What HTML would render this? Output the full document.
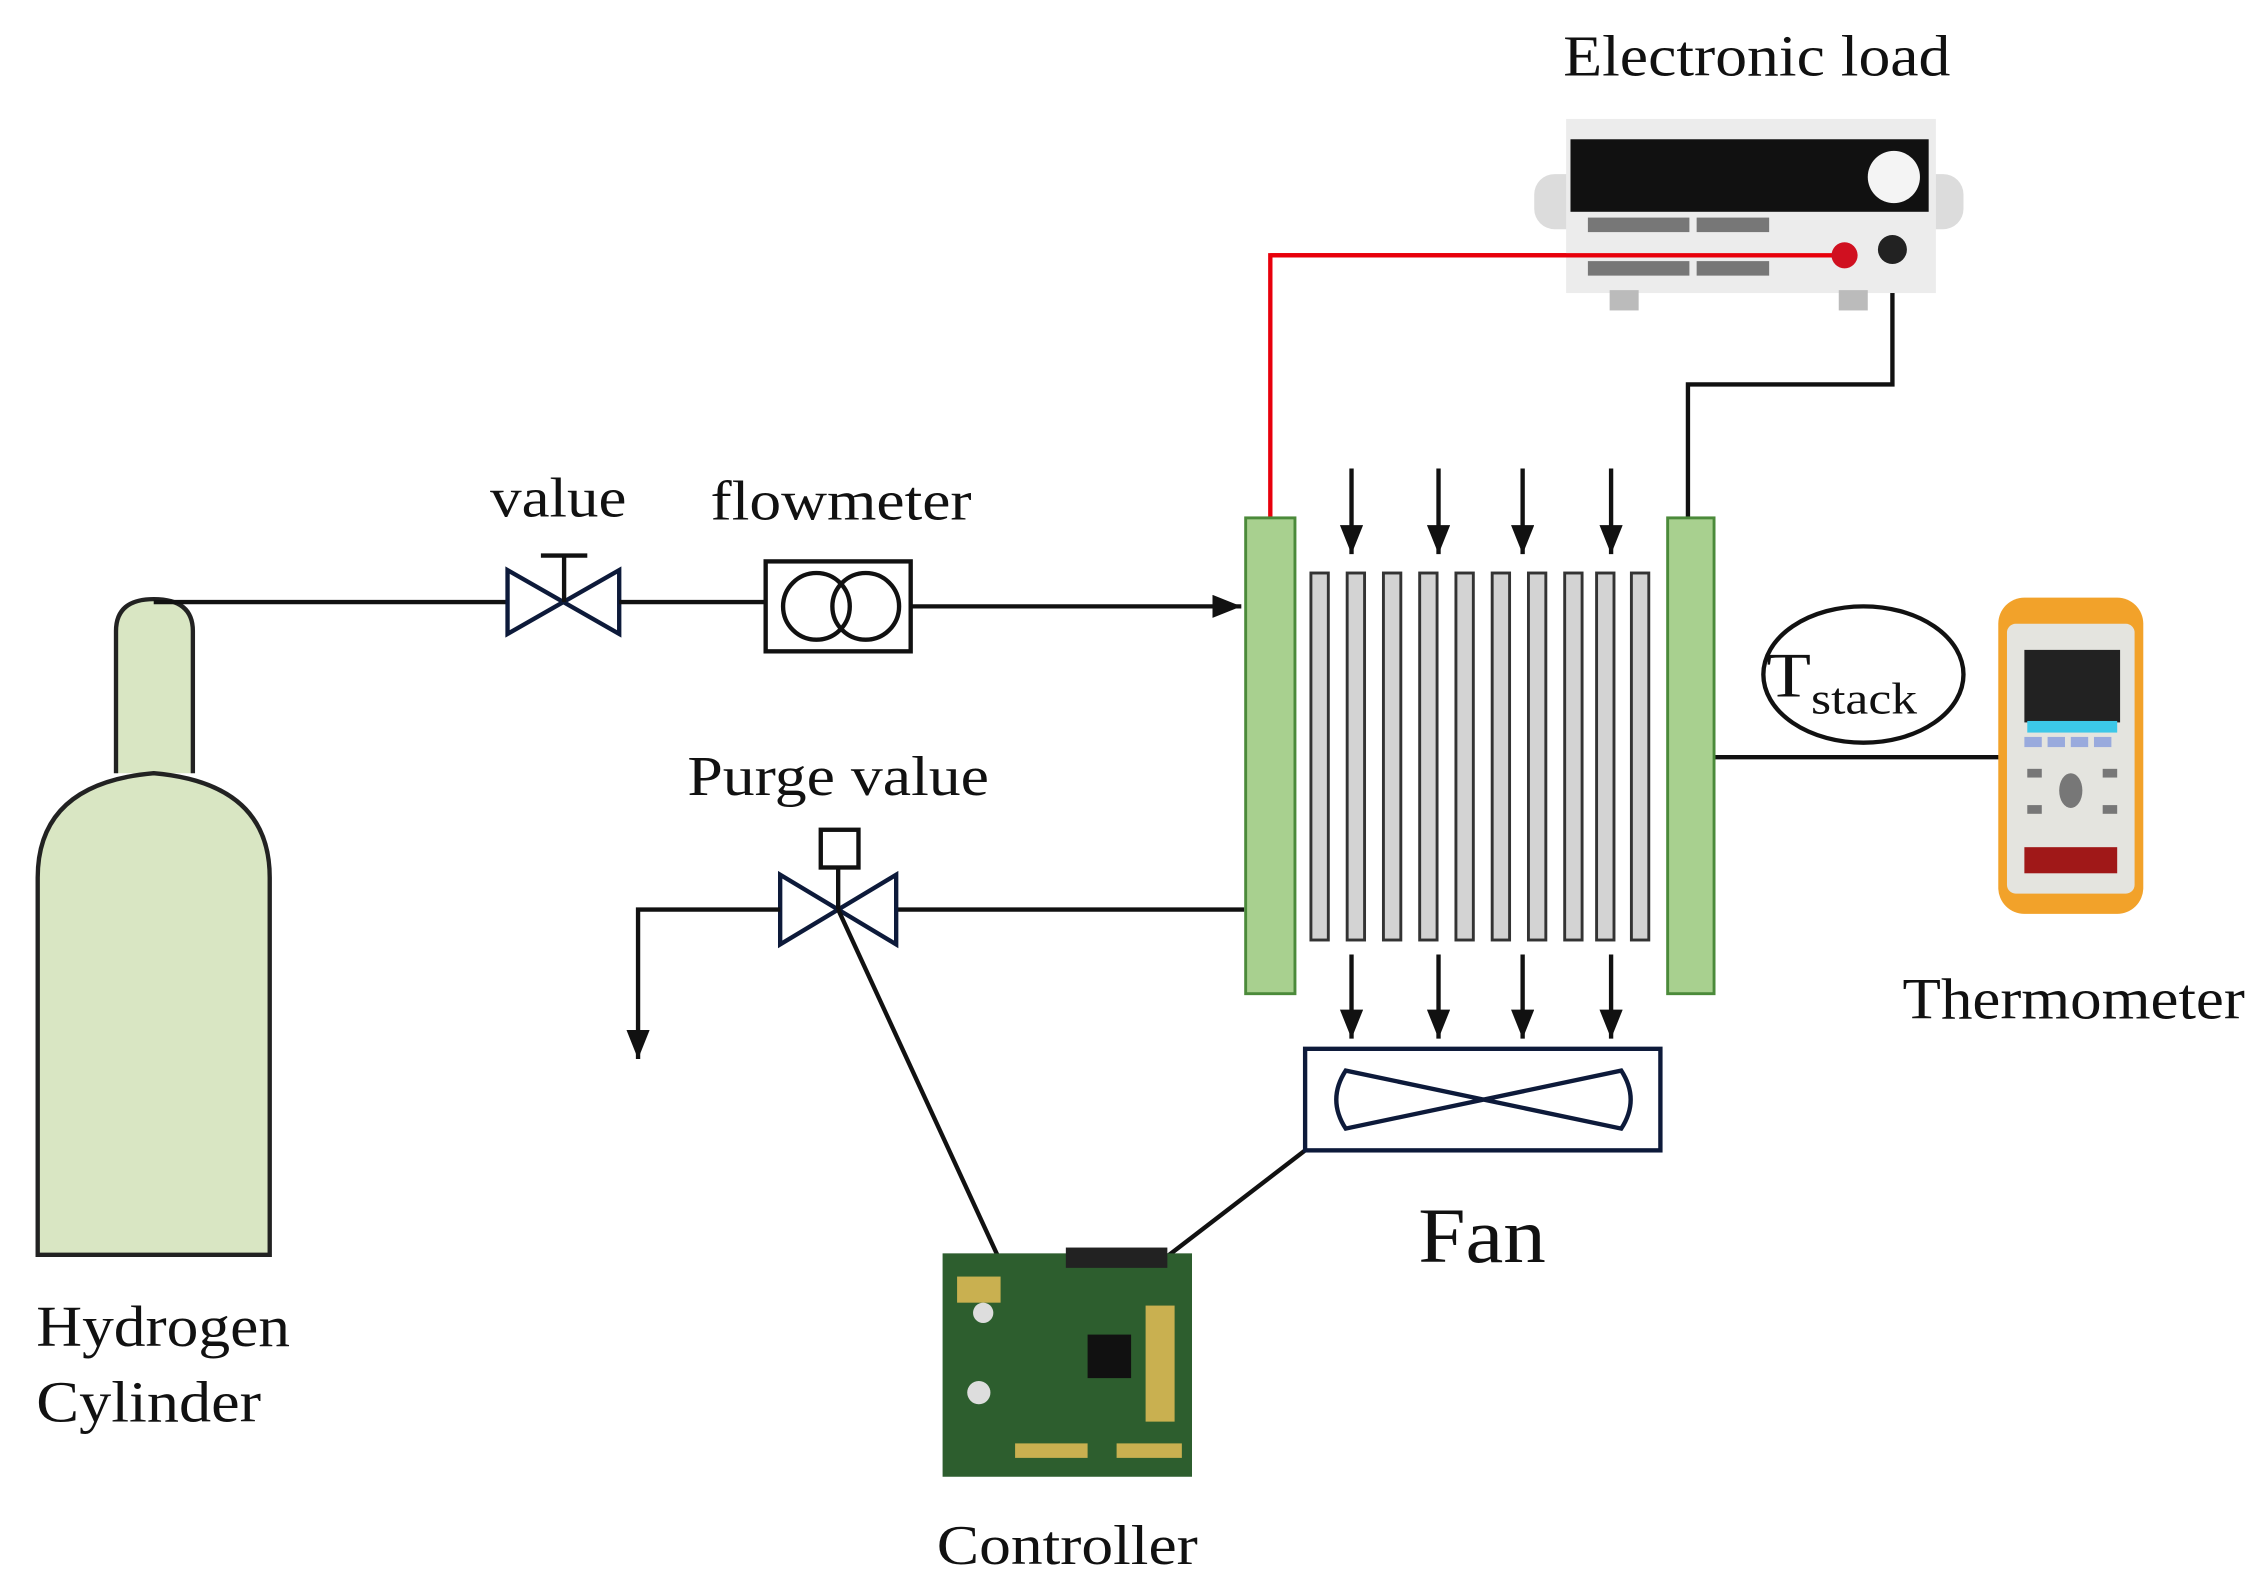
<!DOCTYPE html>
<html><head><meta charset="utf-8"><style>html,body{margin:0;padding:0;background:#fff}svg{display:block}text{font-family:"Liberation Serif",serif;fill:#111}</style></head>
<body>
<svg width="2268" height="1587" viewBox="0 0 1564 1094" preserveAspectRatio="none" xmlns="http://www.w3.org/2000/svg">
<defs>
<marker id="ab" markerWidth="22" markerHeight="22" refX="20" refY="8" orient="auto" markerUnits="userSpaceOnUse"><path d="M0,0 L20,8 L0,16 z" fill="#111"/></marker></defs>
<g stroke="#111" stroke-width="3" fill="none">
<path d="M80,533 L80,435 Q80,413 106,413 Q133,413 133,435 L133,533" fill="#d9e6c3" stroke="#222"/>
<path d="M26,865 L26,605 Q26,540 106,533 Q186,540 186,605 L186,865 Z" fill="#d9e6c3" stroke="#222"/>
<line x1="106" y1="415" x2="350" y2="415"/>
<path d="M350,393 L427,437 L427,393 L350,437 Z" fill="#fff" stroke="#0d1a3a"/>
<line x1="389" y1="415" x2="389" y2="383"/><line x1="373" y1="383" x2="405" y2="383"/>
<line x1="427" y1="415" x2="528" y2="415"/>
<rect x="528" y="387" width="100" height="62" fill="#fff"/>
<circle cx="563" cy="418" r="23"/><circle cx="597" cy="418" r="23"/>
<line x1="628" y1="418" x2="856" y2="418" marker-end="url(#ab)"/>
<line x1="858" y1="627" x2="618" y2="627"/>
<path d="M538,603 L618,651 L618,603 L538,651 Z" fill="#fff" stroke="#0d1a3a"/>
<line x1="578" y1="627" x2="578" y2="598"/><rect x="566" y="572" width="26" height="26" fill="#fff"/>
<polyline points="538,627 440,627 440,730" marker-end="url(#ab)"/>
<line x1="578" y1="627" x2="690" y2="870"/>
<line x1="900" y1="793" x2="805" y2="866"/>
<polyline points="876,357 876,176 1272,176" stroke="#e8000b"/>
<polyline points="1164,357 1164,265 1305,265 1305,178"/>
<line x1="1182" y1="522" x2="1380" y2="522"/>
<g><line x1="932" y1="323" x2="932" y2="382" marker-end="url(#ab)"/><line x1="992" y1="323" x2="992" y2="382" marker-end="url(#ab)"/><line x1="1050" y1="323" x2="1050" y2="382" marker-end="url(#ab)"/><line x1="1111" y1="323" x2="1111" y2="382" marker-end="url(#ab)"/>
<line x1="932" y1="658" x2="932" y2="716" marker-end="url(#ab)"/><line x1="992" y1="658" x2="992" y2="716" marker-end="url(#ab)"/><line x1="1050" y1="658" x2="1050" y2="716" marker-end="url(#ab)"/><line x1="1111" y1="658" x2="1111" y2="716" marker-end="url(#ab)"/></g>
<rect x="900" y="723" width="245" height="70" fill="#fff" stroke="#0d1a3a"/>
<path d="M928,738 Q915,758 928,778 L1118,738 Q1131,758 1118,778 Z" stroke="#0d1a3a"/>
</g>
<rect x="859" y="357" width="34" height="328" fill="#a8d08f" stroke="#4b8a3a" stroke-width="2"/>
<rect x="1150" y="357" width="32" height="328" fill="#a8d08f" stroke="#4b8a3a" stroke-width="2"/>
<g fill="#d3d3d3" stroke="#333" stroke-width="2">
<rect x="904" y="395" width="12" height="253"/><rect x="929" y="395" width="12" height="253"/><rect x="954" y="395" width="12" height="253"/><rect x="979" y="395" width="12" height="253"/><rect x="1004" y="395" width="12" height="253"/><rect x="1029" y="395" width="12" height="253"/><rect x="1054" y="395" width="12" height="253"/><rect x="1079" y="395" width="12" height="253"/><rect x="1101" y="395" width="12" height="253"/><rect x="1125" y="395" width="12" height="253"/></g>
<rect x="1058" y="120" width="296" height="38" rx="14" fill="#dcdcdc"/>
<rect x="1080" y="82" width="255" height="120" fill="#ececec"/>
<rect x="1083" y="96" width="247" height="50" fill="#111"/>
<circle cx="1306" cy="122" r="18" fill="#f4f4f4"/>
<g fill="#777"><rect x="1095" y="150" width="70" height="10"/><rect x="1170" y="150" width="50" height="10"/><rect x="1095" y="180" width="70" height="10"/><rect x="1170" y="180" width="50" height="10"/></g>
<rect x="1110" y="200" width="20" height="14" fill="#bbb"/><rect x="1268" y="200" width="20" height="14" fill="#bbb"/>
<line x1="876" y1="176" x2="1272" y2="176" stroke="#e8000b" stroke-width="3"/>
<circle cx="1272" cy="176" r="9" fill="#d01020"/><circle cx="1305" cy="172" r="10" fill="#222"/>
<rect x="1378" y="412" width="100" height="218" rx="18" fill="#f2a22a"/>
<rect x="1384" y="430" width="88" height="186" rx="6" fill="#e4e4df"/>
<rect x="1396" y="448" width="66" height="50" fill="#222"/>
<rect x="1398" y="497" width="62" height="8" fill="#3cc8e8"/>
<g fill="#9ad"><rect x="1396" y="508" width="12" height="7"/><rect x="1412" y="508" width="12" height="7"/><rect x="1428" y="508" width="12" height="7"/><rect x="1444" y="508" width="12" height="7"/></g>
<g fill="#777"><ellipse cx="1428" cy="545" rx="8" ry="12"/><rect x="1398" y="530" width="10" height="6"/><rect x="1450" y="530" width="10" height="6"/><rect x="1398" y="555" width="10" height="6"/><rect x="1450" y="555" width="10" height="6"/></g>
<rect x="1396" y="584" width="64" height="18" fill="#a01818"/>
<rect x="650" y="864" width="172" height="154" fill="#2d5e2e"/>
<g fill="#c9b050"><rect x="660" y="880" width="30" height="18"/><rect x="770" y="995" width="45" height="10"/><rect x="700" y="995" width="50" height="10"/><rect x="790" y="900" width="20" height="80"/></g>
<rect x="735" y="860" width="70" height="14" fill="#222"/><rect x="750" y="920" width="30" height="30" fill="#111"/>
<circle cx="678" cy="905" r="7" fill="#ddd"/><circle cx="675" cy="960" r="8" fill="#ddd"/>
<ellipse cx="1285" cy="465" rx="69" ry="47" fill="none" stroke="#111" stroke-width="3"/>
<text x="1218" y="480" font-size="44" textLength="104" lengthAdjust="spacingAndGlyphs">T<tspan font-size="31" dy="12">stack</tspan></text>
<g lengthAdjust="spacingAndGlyphs">
<text x="1078" y="52" font-size="40" textLength="267" lengthAdjust="spacingAndGlyphs">Electronic load</text>
<text x="338" y="356" font-size="39" textLength="94" lengthAdjust="spacingAndGlyphs">value</text>
<text x="490" y="358" font-size="39" textLength="180" lengthAdjust="spacingAndGlyphs">flowmeter</text>
<text x="474" y="548" font-size="39" textLength="208" lengthAdjust="spacingAndGlyphs">Purge value</text>
<text x="978" y="870" font-size="54" textLength="88" lengthAdjust="spacingAndGlyphs">Fan</text>
<text x="1312" y="702" font-size="40" textLength="236" lengthAdjust="spacingAndGlyphs">Thermometer</text>
<text x="25" y="928" font-size="40" textLength="175" lengthAdjust="spacingAndGlyphs">Hydrogen</text>
<text x="25" y="980" font-size="40" textLength="155" lengthAdjust="spacingAndGlyphs">Cylinder</text>
<text x="646" y="1078" font-size="39" textLength="180" lengthAdjust="spacingAndGlyphs">Controller</text>
</g>
</svg>
</body></html>
